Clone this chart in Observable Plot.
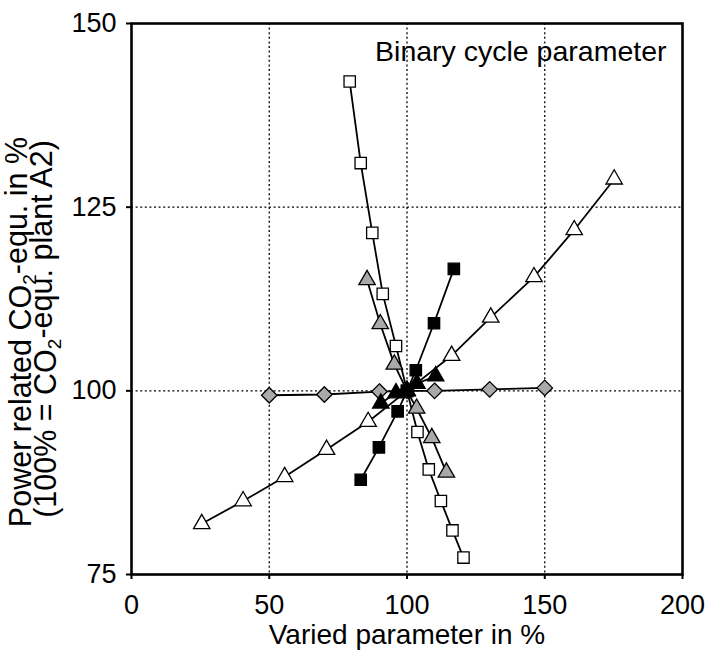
<!DOCTYPE html>
<html><head><meta charset="utf-8">
<script src="https://cdn.jsdelivr.net/npm/d3@7"></script>
<script src="https://cdn.jsdelivr.net/npm/@observablehq/plot@0.6"></script>
<style>body{margin:0;background:#fff}#chart{width:708px;height:658px}</style>
</head><body><div id="chart"></div>
<script>
const FONT = '"Liberation Sans", Arial, Helvetica, sans-serif';
const xTicks = [0, 50, 100, 150, 200];
const yTicks = [75, 100, 125, 150];
const xGrid = [50, 100, 150];
const yGrid = [100, 125];
const annotation = "Binary cycle parameter";
const xTitle = "Varied parameter in %";
const yTitleLines = [["Power related CO", "2", "-equ. in %"], ["(100% = CO", "2", "-equ. plant A2)"]];

// series values
const openSquareX = [79.2, 83.2, 87.4, 91.2, 96.0, 100, 103.8, 107.9, 112.3, 116.5, 120.5];
const openSquareY = [142.1, 131.0, 121.5, 113.2, 106.1, 100, 94.4, 89.3, 85.0, 81.0, 77.3];
const grayTriangleX = [85.5, 90.3, 95.4, 100, 103.5, 109.0, 114.3];
const grayTriangleY = [115.1, 109.1, 103.6, 100, 97.6, 93.6, 88.9];
const blackSquareX = [83.2, 89.8, 96.6, 100, 103.2, 109.8, 117.0];
const blackSquareY = [87.9, 92.3, 97.2, 100, 102.8, 109.2, 116.6];
const blackTriangleX = [90.5, 96.0, 100, 103.6, 110.4];
const blackTriangleY = [98.3, 99.7, 100, 101.0, 102.0];
const diamondX = [50, 70, 90, 100, 110, 130, 150];
const diamondY = [99.4, 99.5, 99.9, 100, 100.0, 100.2, 100.4];
const openTriangleX = [25.5, 40.5, 55.6, 70.8, 85.9, 100, 116.2, 130.4, 146.1, 160.7, 175.2];
const openTriangleY = [81.9, 85.0, 88.3, 92.0, 95.8, 100, 104.8, 110.0, 115.5, 121.9, 128.8];

const rows = (xs, ys) => xs.map((x, i) => ({x, y: ys[i]}));
const series = [
  {data: rows(openTriangleX, openTriangleY), symbol: "triangle", fill: "white", r: 6.1},
  {data: rows(diamondX, diamondY), symbol: "diamond2", fill: "#a9a9a9", r: 7.0},
  {data: rows(openSquareX, openSquareY), symbol: "square", fill: "white", r: 6.4},
  {data: rows(grayTriangleX, grayTriangleY), symbol: "triangle", fill: "#a9a9a9", r: 6.1},
  {data: rows(blackSquareX, blackSquareY), symbol: "square", fill: "black", r: 6.4},
  {data: rows(blackTriangleX, blackTriangleY), symbol: "triangle", fill: "black", r: 6.1}
];

const marks = [
  Plot.ruleX(xGrid, {stroke: "black", strokeWidth: 1.3, strokeDasharray: "2,2.6"}),
  Plot.ruleY(yGrid, {stroke: "black", strokeWidth: 1.3, strokeDasharray: "2,2.6"}),
  Plot.axisX({ticks: xTicks, tickSize: 5, tickPadding: 15, label: null, fontSize: 27, strokeWidth: 2}),
  Plot.axisY({ticks: yTicks, tickSize: 5, tickPadding: 10, label: null, fontSize: 27, strokeWidth: 2})
];
for (const s of series) {
  marks.push(Plot.line(s.data, {x: "x", y: "y", stroke: "black", strokeWidth: 1.8}));
}
for (const s of series) {
  marks.push(Plot.dot(s.data, {x: "x", y: "y", symbol: () => s.symbol, r: s.r, fill: s.fill, stroke: "black", strokeWidth: 1.3}));
}
marks.push(Plot.frame({stroke: "black", strokeWidth: 2.6}));
marks.push(Plot.text([annotation], {frameAnchor: "top-right", dx: -16, dy: 17, lineAnchor: "top", textAnchor: "end", fontSize: 28.5, fill: "black"}));
marks.push(Plot.text([xTitle], {frameAnchor: "bottom", dy: 61, lineAnchor: "middle", fontSize: 28, fill: "black"}));

const plot = Plot.plot({
  width: 708, height: 658,
  marginLeft: 131, marginRight: 26, marginTop: 23, marginBottom: 84,
  style: {fontFamily: FONT, fontSize: "27px", background: "white", color: "black", overflow: "visible"},
  x: {domain: [0, 200]},
  y: {domain: [75, 150]},
  marks
});

const svg = d3.select(plot);
const g = svg.append("g").attr("font-family", FONT).attr("text-anchor", "middle").attr("fill", "black");
const titlePos = [{x: 20, y: 332}, {x: 45, y: 329}];
yTitleLines.forEach((parts, i) => {
  const t = g.append("text")
    .attr("font-size", 30.5)
    .attr("transform", `translate(${titlePos[i].x},${titlePos[i].y}) rotate(-90)`)
    .attr("dy", "0.35em");
  t.append("tspan").text(parts[0]);
  t.append("tspan").attr("font-size", 19).attr("dy", "0.3em").text(parts[1]);
  t.append("tspan").attr("dy", "-0.3em").attr("font-size", 30.5).text(parts[2]);
});
document.getElementById("chart").appendChild(plot);
</script>
</body></html>
